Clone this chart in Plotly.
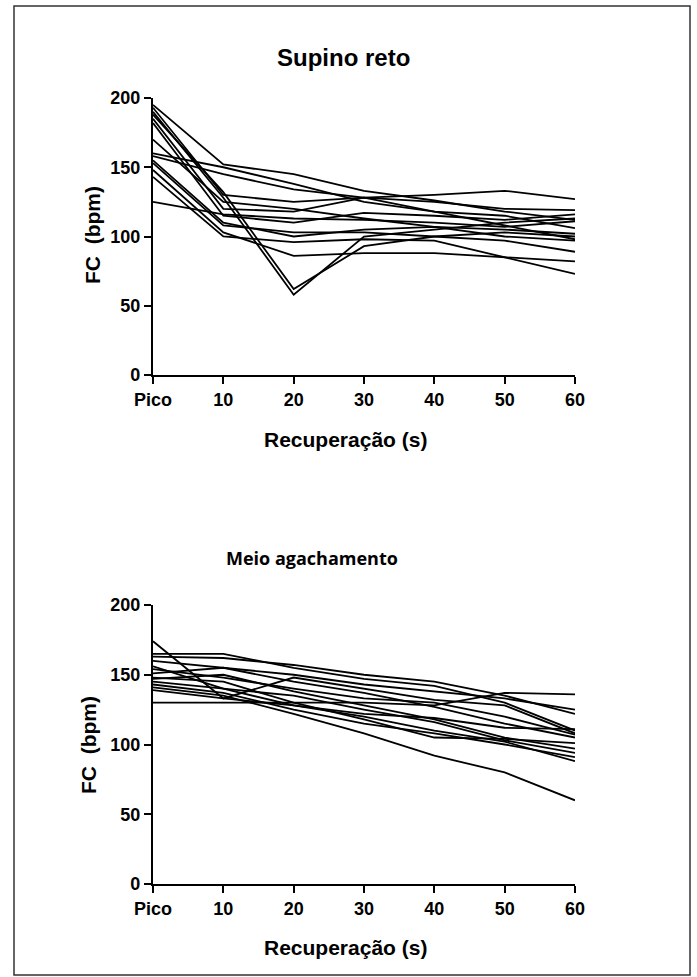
import plotly.graph_objects as go

W, H = 697, 977

x_vals = [0, 10, 20, 30, 40, 50, 60]
x_ticktext = ["Pico", "10", "20", "30", "40", "50", "60"]
y_ticks = [0, 50, 100, 150, 200]

supino_reto = [
    [195, 152, 145, 133, 126, 118, 112],
    [193, 130, 125, 128, 130, 133, 127],
    [190, 128, 58, 100, 105, 110, 113],
    [188, 132, 62, 93, 100, 103, 100],
    [185, 120, 118, 128, 125, 120, 119],
    [182, 115, 110, 117, 115, 112, 116],
    [170, 125, 120, 113, 107, 100, 97],
    [160, 150, 138, 125, 118, 115, 106],
    [158, 145, 134, 128, 118, 108, 98],
    [155, 110, 100, 105, 107, 105, 102],
    [153, 108, 103, 103, 100, 97, 89],
    [148, 103, 86, 88, 88, 85, 82],
    [143, 100, 96, 98, 97, 85, 73],
    [125, 116, 113, 112, 110, 107, 111],
]

meio_agachamento = [
    [174, 133, 148, 140, 132, 128, 108],
    [165, 165, 155, 147, 142, 130, 110],
    [163, 162, 157, 150, 145, 135, 122],
    [160, 155, 150, 143, 138, 133, 125],
    [154, 148, 140, 133, 130, 120, 107],
    [151, 155, 145, 137, 127, 115, 105],
    [147, 150, 138, 128, 118, 105, 97],
    [145, 140, 135, 125, 116, 103, 94],
    [143, 137, 125, 115, 108, 100, 91],
    [141, 135, 122, 108, 92, 80, 60],
    [139, 133, 128, 120, 110, 102, 88],
    [130, 130, 130, 130, 128, 137, 136],
    [148, 145, 130, 118, 105, 104, 101],
    [156, 140, 128, 122, 119, 112, 111],
]

title_top = "Supino reto"
title_bottom = "Meio agachamento"
x_title = "Recuperação (s)"
y_title = "FC  (bpm)"

fig = go.Figure()

for s in supino_reto:
    fig.add_trace(go.Scatter(x=x_vals, y=s, mode="lines", xaxis="x", yaxis="y",
                             line=dict(color="black", width=1.8), showlegend=False,
                             hoverinfo="skip"))
for s in meio_agachamento:
    fig.add_trace(go.Scatter(x=x_vals, y=s, mode="lines", xaxis="x2", yaxis="y2",
                             line=dict(color="black", width=1.8), showlegend=False,
                             hoverinfo="skip"))

font_ax = dict(family="Liberation Sans, Arial, sans-serif", size=18, color="black", weight="bold")

def px_x(p):
    return p / W

def px_y(p):
    return 1 - p / H

xdom = [px_x(153), px_x(575)]
xa = dict(range=[0, 60], tickmode="array", tickvals=x_vals, ticktext=x_ticktext,
          showline=True, linecolor="black", linewidth=2.2, ticks="outside",
          ticklen=7, tickwidth=2.2, tickcolor="black", showgrid=False, zeroline=False,
          tickfont=font_ax, domain=xdom, fixedrange=True, automargin=False)
ya = dict(range=[0, 200], tickmode="array", tickvals=y_ticks,
          showline=True, linecolor="black", linewidth=2.2, ticks="outside",
          ticklen=7, tickwidth=2.2, tickcolor="black", showgrid=False, zeroline=False,
          tickfont=font_ax, fixedrange=True, automargin=False)

fig.update_layout(
    width=W, height=H, autosize=False,
    margin=dict(l=0, r=0, t=0, b=0, pad=0, autoexpand=False),
    paper_bgcolor="white", plot_bgcolor="white",
    xaxis=dict(xa, anchor="y"),
    yaxis=dict(ya, anchor="x", domain=[px_y(375), px_y(98)]),
    xaxis2=dict(xa, anchor="y2"),
    yaxis2=dict(ya, anchor="x2", domain=[px_y(884), px_y(605)]),
)

ann_font_title = dict(family="Liberation Sans, Arial, sans-serif", size=24, color="black", weight="bold")
ann_font_axis = dict(family="Liberation Sans, Arial, sans-serif", size=21, color="black", weight="bold")

anns = [
    dict(text=title_top, x=px_x(343), y=px_y(58), font=ann_font_title),
    dict(text=title_bottom, x=px_x(312), y=px_y(558),
         font=dict(family="Open Sans, Noto Sans, sans-serif", size=18, color="black", weight="bold")),
    dict(text=x_title, x=px_x(345), y=px_y(440), font=ann_font_axis),
    dict(text=x_title, x=px_x(345), y=px_y(947), font=ann_font_axis),
    dict(text=y_title, x=px_x(92), y=px_y(235), font=ann_font_axis, textangle=-90),
    dict(text=y_title, x=px_x(88), y=px_y(745), font=ann_font_axis, textangle=-90),
]
for a in anns:
    a.update(xref="paper", yref="paper", showarrow=False, xanchor="center", yanchor="middle")
fig.update_layout(annotations=anns)

fig.add_shape(type="rect", xref="paper", yref="paper",
              x0=px_x(14), x1=px_x(690), y0=px_y(975), y1=px_y(6),
              line=dict(color="#333333", width=1.5), fillcolor="rgba(0,0,0,0)")

fig.write_html("out.html", config={"displayModeBar": False},
               post_script="document.body.style.margin='0';document.body.style.overflow='hidden';")
